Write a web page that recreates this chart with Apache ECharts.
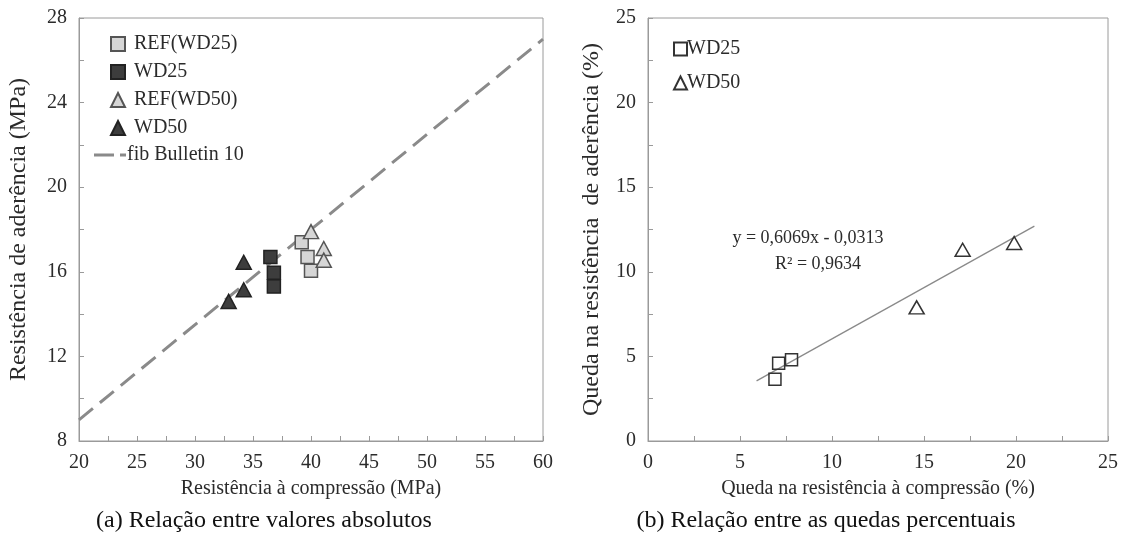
<!DOCTYPE html>
<html><head><meta charset="utf-8">
<script src="https://cdn.jsdelivr.net/npm/echarts@6/dist/echarts.min.js"></script>
<style>html,body{margin:0;padding:0;background:#fff}#c{width:1126px;height:546px}</style>
</head><body><div id="c"></div>
<script>
// (a) absolute values
const refWD25_fc = [39.2, 39.7, 40.0];
const refWD25_tb = [17.4, 16.7, 16.05];
const wd25_fc = [36.5, 36.8, 36.8];
const wd25_tb = [16.7, 15.95, 15.3];
const refWD50_fc = [40.0, 41.1, 41.1];
const refWD50_tb = [17.9, 17.1, 16.55];
const wd50_fc = [34.2, 34.2, 32.9];
const wd50_tb = [16.45, 15.15, 14.6];
const fib_fc = [20, 60];
const fib_tb = [9, 27];
// (b) percentage drops
const dWD25_fc = [6.9, 7.1, 7.8];
const dWD25_tb = [3.65, 4.6, 4.8];
const dWD50_fc = [14.6, 17.1, 19.9];
const dWD50_tb = [7.9, 11.3, 11.7];
const fit_x = [5.9, 21.0];
const fit_y = [3.55, 12.7];

const FONT = '"Liberation Serif", "DejaVu Serif", serif';
const TXT = '#2b2b2b';
const AX = '#9a9a9a';
const zip = (a, b) => a.map((v, i) => [v, b[i]]);

function axis(gi, min, max, step, labStep, name, gap, nameSize) {
  return {
    type: 'value', gridIndex: gi, min: min, max: max, interval: step,
    name: name, nameLocation: 'middle', nameGap: gap,
    nameTextStyle: {fontFamily: FONT, fontSize: nameSize, color: TXT},
    axisLine: {show: true, lineStyle: {color: AX, width: 1}},
    axisTick: {show: true, inside: true, length: 5, lineStyle: {color: AX}},
    splitLine: {show: false},
    axisLabel: {fontFamily: FONT, fontSize: 20, color: TXT, margin: 12,
      formatter: v => (Math.abs(((v - min) / labStep) - Math.round((v - min) / labStep)) < 1e-6 ? String(v) : '')}
  };
}

const chart = echarts.init(document.getElementById('c'));
chart.setOption({
  animation: false,
  grid: [
    {left: 79, top: 18, width: 464, height: 423, show: true, borderColor: AX, borderWidth: 1},
    {left: 648, top: 18, width: 460, height: 423, show: true, borderColor: AX, borderWidth: 1}
  ],
  xAxis: [
    axis(0, 20, 60, 2.5, 5, 'Resistência à compressão (MPa)', 38, 20),
    axis(1, 0, 25, 2.5, 5, 'Queda na resistência à compressão (%)', 38, 20)
  ],
  yAxis: [
    axis(0, 8, 28, 2, 4, 'Resistência de aderência (MPa)', 48, 24),
    axis(1, 0, 25, 2.5, 5, 'Queda na resistência  de aderência (%)', 44, 24)
  ],
  legend: [
    {data: ['REF(WD25)', 'WD25', 'REF(WD50)', 'WD50'], orient: 'vertical', left: 105, top: 29,
     itemWidth: 14, itemHeight: 14, itemGap: 8, textStyle: {fontFamily: FONT, fontSize: 20, color: TXT, padding: [0, 0, 0, 4]}},
    {data: [{name: 'fib Bulletin 10', icon: 'path://M0,0H20V3H0Z M26,0H32V3H26Z'}], orient: 'vertical', left: 89, top: 140,
     itemWidth: 32, itemHeight: 3, textStyle: {fontFamily: FONT, fontSize: 20, color: TXT, padding: [0, 0, 0, -4]}},
    {data: ['WD25 ', 'WD50 '], orient: 'vertical', left: 668, top: 34,
     itemWidth: 13, itemHeight: 13, itemGap: 14, textStyle: {fontFamily: FONT, fontSize: 20, color: TXT, padding: [0, 0, 0, -5]}}
  ],
  series: [
    {name: 'fib Bulletin 10', type: 'line', xAxisIndex: 0, yAxisIndex: 0, data: zip(fib_fc, fib_tb),
     symbol: 'none', lineStyle: {color: '#8a8a8a', width: 3, type: [18, 9]}, itemStyle: {color: '#8a8a8a'}, z: 1},
    {name: 'REF(WD25)', type: 'scatter', xAxisIndex: 0, yAxisIndex: 0, data: zip(refWD25_fc, refWD25_tb),
     symbol: 'rect', symbolSize: 13, itemStyle: {color: '#d6d6d6', borderColor: '#555', borderWidth: 1.5, opacity: 1}, z: 3},
    {name: 'WD25', type: 'scatter', xAxisIndex: 0, yAxisIndex: 0, data: zip(wd25_fc, wd25_tb),
     symbol: 'rect', symbolSize: 13, itemStyle: {color: '#3d3d3d', borderColor: '#222', borderWidth: 1.5, opacity: 1}, z: 3},
    {name: 'REF(WD50)', type: 'scatter', xAxisIndex: 0, yAxisIndex: 0, data: zip(refWD50_fc, refWD50_tb),
     symbol: 'triangle', symbolSize: [15, 14], itemStyle: {color: '#d6d6d6', borderColor: '#555', borderWidth: 1.5, opacity: 1}, z: 3},
    {name: 'WD50', type: 'scatter', xAxisIndex: 0, yAxisIndex: 0, data: zip(wd50_fc, wd50_tb),
     symbol: 'triangle', symbolSize: [15, 14], itemStyle: {color: '#3d3d3d', borderColor: '#222', borderWidth: 1.5, opacity: 1}, z: 3},
    {name: 'fit', type: 'line', xAxisIndex: 1, yAxisIndex: 1, data: zip(fit_x, fit_y),
     symbol: 'none', lineStyle: {color: '#8a8a8a', width: 1.3}, z: 1},
    {name: 'WD25 ', type: 'scatter', xAxisIndex: 1, yAxisIndex: 1, data: zip(dWD25_fc, dWD25_tb),
     symbol: 'rect', symbolSize: 12, itemStyle: {color: 'rgba(255,255,255,0)', borderColor: '#333', borderWidth: 1.5, opacity: 1}, z: 3},
    {name: 'WD50 ', type: 'scatter', xAxisIndex: 1, yAxisIndex: 1, data: zip(dWD50_fc, dWD50_tb),
     symbol: 'triangle', symbolSize: [15, 13], itemStyle: {color: 'rgba(255,255,255,0)', borderColor: '#333', borderWidth: 1.5, opacity: 1}, z: 3}
  ],
  graphic: [
    {type: 'text', x: 808, y: 238, style: {text: 'y = 0,6069x - 0,0313', font: '18px ' + FONT, fill: TXT, textAlign: 'center', textVerticalAlign: 'middle'}},
    {type: 'text', x: 818, y: 264, style: {text: 'R² = 0,9634', font: '18px ' + FONT, fill: TXT, textAlign: 'center', textVerticalAlign: 'middle'}},
    {type: 'text', x: 264, y: 521, style: {text: '(a) Relação entre valores absolutos', font: '24px ' + FONT, fill: '#111', textAlign: 'center', textVerticalAlign: 'middle'}},
    {type: 'text', x: 826, y: 521, style: {text: '(b) Relação entre as quedas percentuais', font: '24px ' + FONT, fill: '#111', textAlign: 'center', textVerticalAlign: 'middle'}}
  ]
});
</script></body></html>
